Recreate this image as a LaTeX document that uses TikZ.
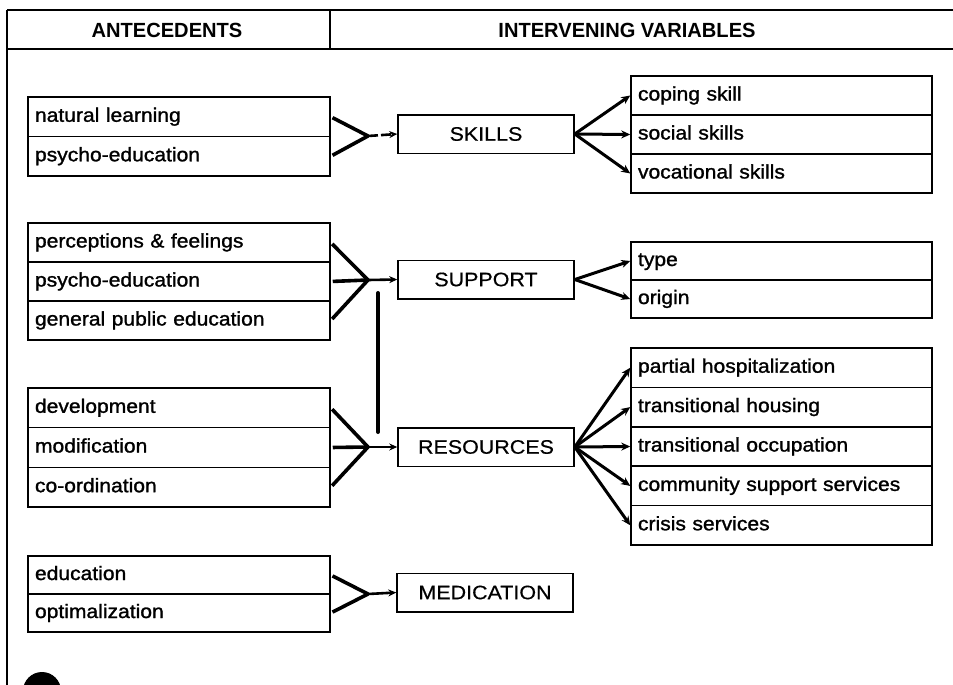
\documentclass[tikz,border=0pt]{standalone}
\usepackage{fontspec}
\setmainfont{Liberation Sans}
\newfontfamily\itemfont{Liberation Sans}[FakeStretch=1.08,FakeBold=1.3]
\newfontfamily\labelfont{Liberation Sans}[FakeStretch=1.1,FakeBold=0.5]
\newfontfamily\headfont{Liberation Sans}[FakeStretch=0.98]
\usetikzlibrary{arrows.meta}

\tikzset{
  cell/.style={draw, line width=1.5pt, rectangle, minimum width=302pt,
    text width=288pt, inner xsep=7pt, inner ysep=0pt, align=left,
    text height=14pt, text depth=4pt,
    font=\itemfont\fontsize{19.5}{20}\selectfont},
  rcell/.style={cell, minimum width=301pt, text width=287pt},
  hub/.style={draw, line width=1.5pt, rectangle, minimum width=176pt,
    minimum height=38.5pt, inner sep=0pt,
    font=\labelfont\fontsize{19.5}{20}\selectfont},
  fan/.style={line width=3.6pt, shorten <=2pt},
  feed/.style={line width=2.6pt, -{Stealth[length=8pt,width=7pt]}},
  spread/.style={line width=3pt, -{Stealth[length=9pt,width=8pt]}},
  link/.style={line width=4pt, line cap=round},
  frame/.style={line width=2pt},
  headtext/.style={font=\headfont\bfseries\fontsize{20.5}{21}\selectfont}
}

\begin{document}
\begin{tikzpicture}[x=1pt,y=-1pt]
\useasboundingbox (0,0) rectangle (953,685);
\fill[white] (0,0) rectangle (953,685);

% frame and column headings
\draw[frame] (7,10) -- (953,10);
\draw[frame] (7,49) -- (953,49);
\draw[frame] (7,10) -- (7,685);
\draw[frame] (330,10) -- (330,49);
\node[headtext] (hAnte) at (167,30) {ANTECEDENTS};
\node[headtext] (hVar) at (627,30) {INTERVENING VARIABLES};

% antecedents
\node[cell, minimum height=39.5pt] (a1) at (179,116.75) {natural learning};
\node[cell, minimum height=39.5pt] (a2) at (179,156.25) {psycho-education};

\node[cell, minimum height=39pt] (b1) at (179,242.5) {perceptions \& feelings};
\node[cell, minimum height=39pt] (b2) at (179,281.5) {psycho-education};
\node[cell, minimum height=39pt] (b3) at (179,320.5) {general public education};

\node[cell, minimum height=39.7pt] (c1) at (179,407.8) {development};
\node[cell, minimum height=39.7pt] (c2) at (179,447.5) {modification};
\node[cell, minimum height=39.7pt] (c3) at (179,487.2) {co-ordination};

\node[cell, minimum height=38pt] (d1) at (179,575) {education};
\node[cell, minimum height=38pt] (d2) at (179,613) {optimalization};

% intervening variables
\node[hub] (skills) at (486,134) {SKILLS};
\node[hub] (support) at (486,279.5) {SUPPORT};
\node[hub] (resources) at (486,447) {RESOURCES};
\node[hub] (medication) at (485,592.5) {MEDICATION};

% outcomes
\node[rcell, minimum height=39pt] (s1) at (781.5,95.5) {coping skill};
\node[rcell, minimum height=39pt] (s2) at (781.5,134.5) {social skills};
\node[rcell, minimum height=39pt] (s3) at (781.5,173.5) {vocational skills};

\node[rcell, minimum height=38pt] (p1) at (781.5,261) {type};
\node[rcell, minimum height=38pt] (p2) at (781.5,299) {origin};

\node[rcell, minimum height=39.4pt] (r1) at (781.5,367.7) {partial hospitalization};
\node[rcell, minimum height=39.4pt] (r2) at (781.5,407.1) {transitional housing};
\node[rcell, minimum height=39.4pt] (r3) at (781.5,446.5) {transitional occupation};
\node[rcell, minimum height=39.4pt] (r4) at (781.5,485.9) {community support services};
\node[rcell, minimum height=39.4pt] (r5) at (781.5,525.3) {crisis services};

% junction points of the converging lines
\coordinate (jA) at (368,136);
\coordinate (jB) at (368,280);
\coordinate (jC) at (368,447);
\coordinate (jD) at (368,594);
\coordinate (linkTop) at (378,293);
\coordinate (linkBot) at (378,432);

% antecedents converge on each variable
\draw[fan] (a1.east) -- (jA);
\draw[fan] (a2.east) -- (jA);
\draw[feed, dash pattern=on 10pt off 3pt] (jA) -- (skills.west);

\draw[fan] (b1.east) -- (jB);
\draw[fan] (b2.east) -- (jB);
\draw[fan] (b3.east) -- (jB);
\draw[feed] (jB) -- (support.west);

\draw[fan] (c1.east) -- (jC);
\draw[fan] (c2.east) -- (jC);
\draw[fan] (c3.east) -- (jC);
\draw[feed] (jC) -- (resources.west);

\draw[fan] (d1.east) -- (jD);
\draw[fan] (d2.east) -- (jD);
\draw[feed] (jD) -- (medication.west);

\draw[link] (linkTop) -- (linkBot);

% variables spread to their components
\foreach \t in {s1,s2,s3} \draw[spread] (skills.east) -- (\t.west);
\foreach \t in {p1,p2} \draw[spread] (support.east) -- (\t.west);
\foreach \t in {r1,r2,r3,r4,r5} \draw[spread] (resources.east) -- (\t.west);

% dark mark at the lower left corner
\begin{scope}
\clip (0,0) rectangle (953,685);
\fill (42,691) circle (19);
\end{scope}
\end{tikzpicture}
\end{document}
